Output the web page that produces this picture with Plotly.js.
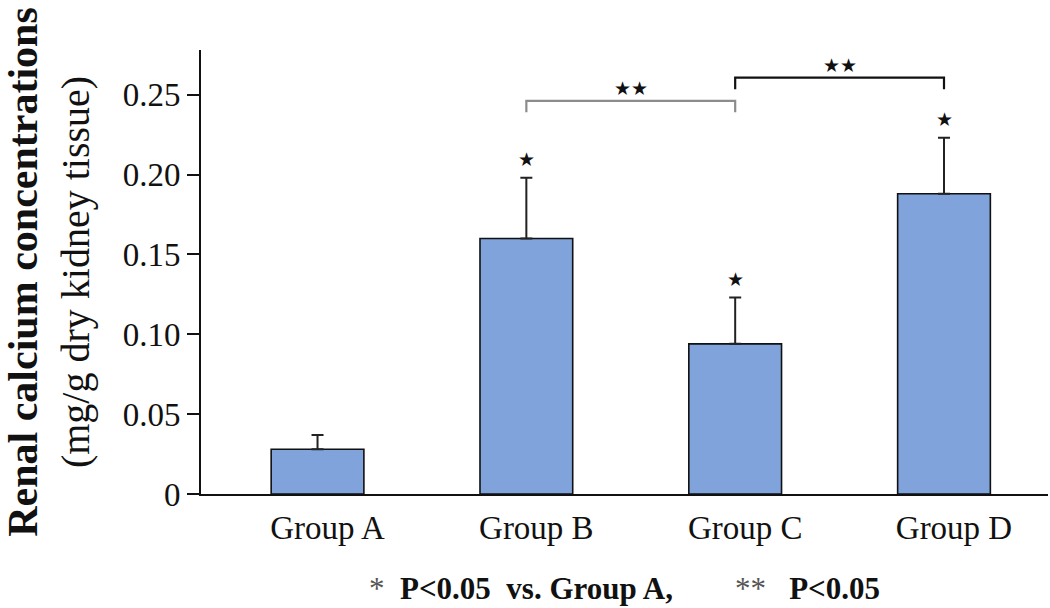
<!DOCTYPE html>
<html>
<head>
<meta charset="utf-8">
<script src="https://cdn.plot.ly/plotly-3.0.1.min.js"></script>
<style>
  html, body { margin: 0; padding: 0; background: #fff; }
  #chart { width: 1050px; height: 608px; }
</style>
</head>
<body>
<div id="chart"></div>
<script>
// group means and upper SD
const groups = ["Group A", "Group B", "Group C", "Group D"];
const calcium = [0.028, 0.160, 0.094, 0.188];
const sdUpper = [0.009, 0.038, 0.029, 0.035];
const sigStar = [false, true, true, true];   // * P<0.05 vs. Group A

// ** comparisons: [from, to, height]
const pairFrom = ["Group B", "Group C"];
const pairTo = ["Group C", "Group D"];
const pairTop = [0.2462, 0.2607];
const pairColor = ["#8c8c8c", "#111111"];

const yTickVals = [0, 0.05, 0.10, 0.15, 0.20, 0.25];
const yTickText = ["0", "0.05", "0.10", "0.15", "0.20", "0.25"];

const serif = "Liberation Serif";
const drop = 0.0072;

const traces = [];

traces.push({
    type: "bar",
    x: groups,
    y: calcium,
    marker: {
        color: "#7fa3da",
        line: { color: "#111111", width: 1.6 }
    },
    error_y: {
        type: "data",
        symmetric: false,
        array: sdUpper,
        arrayminus: sdUpper.map(() => 0),
        color: "#222222",
        thickness: 2,
        width: 6
    },
    hoverinfo: "skip",
    showlegend: false
});

for (let i = 0; i < pairFrom.length; i++) {
    traces.push({
        type: "scatter",
        mode: "lines",
        x: [pairFrom[i], pairFrom[i], pairTo[i], pairTo[i]],
        y: [pairTop[i] - drop, pairTop[i], pairTop[i], pairTop[i] - drop],
        line: { color: pairColor[i], width: 2.2 },
        hoverinfo: "skip",
        showlegend: false
    });
}

const annotations = [];

groups.forEach((g, i) => {
    if (!sigStar[i]) return;
    annotations.push({
        x: g, y: calcium[i] + sdUpper[i],
        xref: "x", yref: "y",
        text: "\u2605",
        showarrow: false,
        yanchor: "bottom",
        yshift: 6,
        font: { family: "DejaVu Sans", size: 19, color: "#111" }
    });
});

for (let i = 0; i < pairFrom.length; i++) {
    const xi = (groups.indexOf(pairFrom[i]) + groups.indexOf(pairTo[i])) / 2;
    annotations.push({
        x: xi, y: pairTop[i],
        xref: "x", yref: "y",
        text: "\u2605\u2605",
        showarrow: false,
        yanchor: "bottom",
        yshift: 0,
        font: { family: "DejaVu Sans", size: 19, color: "#111" }
    });
}

annotations.push({
    x: 0.5, y: -0.212,
    xref: "paper", yref: "paper",
    text: "<span style='font-weight:normal;color:#555'>*</span>  P&lt;0.05  vs. Group A,        <span style='font-weight:normal;color:#555'>**</span>   P&lt;0.05",
    showarrow: false,
    xanchor: "center", yanchor: "middle",
    font: { family: serif, size: 31, color: "#111", weight: "bold" }
});

const layout = {
    width: 1050,
    height: 608,
    margin: { l: 201, r: 2, t: 50, b: 114 },
    paper_bgcolor: "#ffffff",
    plot_bgcolor: "#ffffff",
    bargap: 0.556,
    font: { family: serif, color: "#111" },
    xaxis: {
        type: "category",
        range: [-0.558, 3.498],
        showline: true,
        linecolor: "#111",
        linewidth: 2,
        showgrid: false,
        zeroline: false,
        ticks: "",
        ticklabelshift: 10,
        ticklabelstandoff: 3,
        tickfont: { family: serif, size: 33, color: "#111" },
        fixedrange: true
    },
    yaxis: {
        range: [0, 0.278],
        showline: true,
        linecolor: "#111",
        linewidth: 2,
        showgrid: false,
        zeroline: false,
        ticks: "outside",
        ticklen: 12,
        tickwidth: 2,
        tickcolor: "#111",
        tickvals: yTickVals,
        ticktext: yTickText,
        tickfont: { family: serif, size: 33, color: "#111" },
        title: {
            text: "<span style='font-size:42px'><b>Renal calcium concentrations</b></span><br>(mg/g dry kidney tissue)",
            font: { family: serif, size: 40, color: "#111" },
            standoff: 24
        },
        automargin: false,
        fixedrange: true
    },
    annotations: annotations,
    showlegend: false
};

Plotly.newPlot("chart", traces, layout, { displayModeBar: false, staticPlot: true });
</script>
</body>
</html>
